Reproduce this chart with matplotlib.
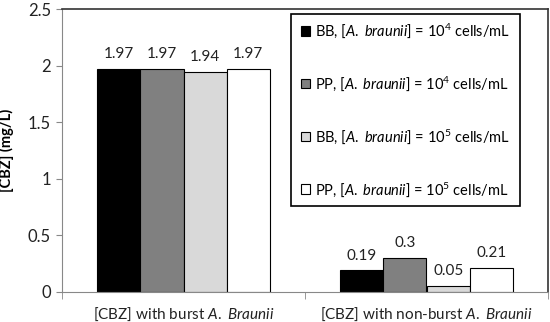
import matplotlib
matplotlib.use("Agg")
import matplotlib.pyplot as plt
from matplotlib.patches import Rectangle
import numpy as np

categories = ["[CBZ] with burst $\\it{A.\\ Braunii}$", "[CBZ] with non-burst $\\it{A.\\ Braunii}$"]
series_labels = [
    "BB, [$\\it{A.\\ braunii}$] = 10$^4$ cells/mL",
    "PP, [$\\it{A.\\ braunii}$] = 10$^4$ cells/mL",
    "BB, [$\\it{A.\\ braunii}$] = 10$^5$ cells/mL",
    "PP, [$\\it{A.\\ braunii}$] = 10$^5$ cells/mL",
]
bb_1e4 = [1.97, 0.19]
pp_1e4 = [1.97, 0.30]
bb_1e5 = [1.94, 0.05]
pp_1e5 = [1.97, 0.21]
value_labels = [["1.97", "0.19"], ["1.97", "0.3"], ["1.94", "0.05"], ["1.97", "0.21"]]
yticks = [0, 0.5, 1, 1.5, 2, 2.5]
ytick_labels = ["0", "0.5", "1", "1.5", "2", "2.5"]

plt.rcParams['font.family'] = ['Lato', 'DejaVu Sans']
plt.rcParams['mathtext.fontset'] = 'custom'
plt.rcParams['mathtext.rm'] = 'Lato'
plt.rcParams['mathtext.it'] = 'Lato:italic'
plt.rcParams['mathtext.bf'] = 'Lato:bold'

fig = plt.figure(figsize=(5.5, 3.22), dpi=100)
ax = fig.add_axes([62/550, 30/322, 486/550, 283/322])

colors = ["#000000", "#808080", "#d9d9d9", "#ffffff"]
series = [bb_1e4, pp_1e4, bb_1e5, pp_1e5]
x = np.arange(len(categories))
w = 0.178
for i, (vals, c, lab) in enumerate(zip(series, colors, series_labels)):
    pos = x + (i - 1.5) * w
    ax.bar(pos, vals, w, color=c, edgecolor="black", linewidth=0.8, label=lab)
    for p, v, t in zip(pos, vals, value_labels[i]):
        ax.text(p, v + 0.07, t, ha="center", va="bottom", fontsize=11, color="#222222")

ax.set_xlim(-0.5, 1.5)
ax.set_ylim(0, 2.5)
ax.set_yticks(yticks)
ax.set_yticklabels(ytick_labels, fontsize=12, color="#222222")
ax.set_xticks(x)
ax.set_xticklabels(categories, fontsize=11, color="#222222")
ax.tick_params(axis="x", which="major", length=0, pad=10)
ax.set_xticks([-0.5, 0.5, 1.5], minor=True)
ax.tick_params(axis="x", which="minor", length=5, color="#888888", direction="out")
ax.tick_params(axis="y", length=4, color="#888888", direction="out", pad=4)

ax.spines["left"].set_color("#888888")
ax.spines["bottom"].set_color("#888888")
ax.spines["top"].set_color("#333333")
ax.spines["right"].set_color("#333333")
ax.spines["top"].set_linewidth(1.2)
ax.spines["right"].set_linewidth(1.2)

ax.set_ylabel("[CBZ] (mg/L)", fontsize=10.5, fontweight="bold", labelpad=10)

# legend box (axes fraction)
bx0 = (291 - 62) / 486
bx1 = (520 - 62) / 486
by0 = (292 - 206) / 283
by1 = (292 - 14) / 283
ax.add_patch(Rectangle((bx0, by0), bx1 - bx0, by1 - by0, transform=ax.transAxes,
                       facecolor="white", edgecolor="black", linewidth=1.2, zorder=4))
leg = ax.legend(loc="center", bbox_to_anchor=((bx0 + bx1) / 2, (by0 + by1) / 2),
                borderaxespad=0, fontsize=10.5, frameon=False,
                handlelength=0.65, handleheight=0.65,
                handletextpad=0.3, labelspacing=2.35, borderpad=0)
leg.set_zorder(5)

fig.savefig("out.png", dpi=100)
